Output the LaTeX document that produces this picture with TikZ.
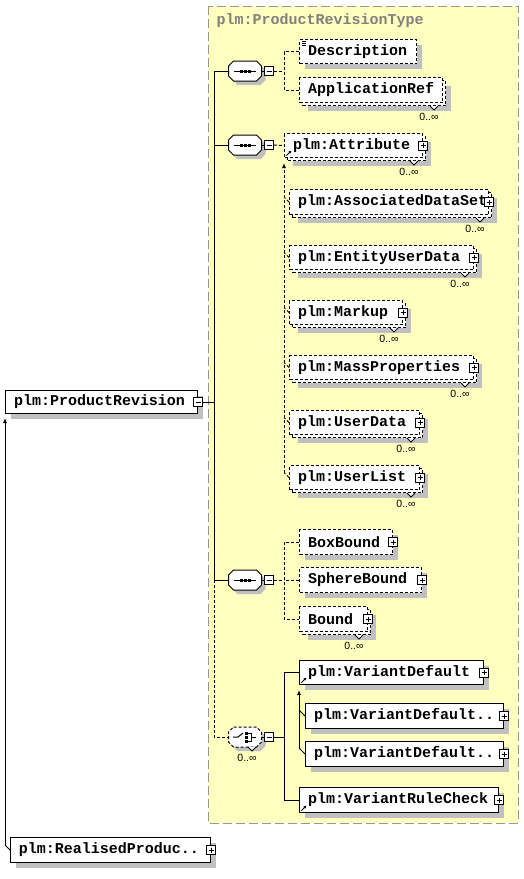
\documentclass[tikz,border=0pt]{standalone}
\usepackage{fontspec}
\usetikzlibrary{arrows.meta,calc,shadows}
\newfontfamily\elfamily{Liberation Mono}
\newfontfamily\mltfamily{Liberation Sans}
\newcommand\elfont{\elfamily\bfseries\fontsize{15}{17}\selectfont}
\definecolor{typebg}{RGB}{255,255,192}
\definecolor{typeline}{RGB}{150,150,150}
\definecolor{typetxt}{RGB}{128,128,128}
\definecolor{shgray}{RGB}{192,192,192}
\def\mult(#1){\draw[fill=white] ($(#1.south east)+(-13,3)$) -- ++(4,4) -- ++(4,-4);
  \node[mlt] (#1-m) at ($(#1.south east)+(-14,14)$) {0..∞};}
\def\octagon[#1](#2){\draw[#1] ($(#2.north west)+(5,0)$) -- ($(#2.north east)+(-5,0)$) -- ($(#2.north east)+(0,5)$)
  -- ($(#2.south east)+(0,-5)$) -- ($(#2.south east)+(-5,0)$) -- ($(#2.south west)+(5,0)$)
  -- ($(#2.south west)+(0,-5)$) -- ($(#2.north west)+(0,5)$) -- cycle;}
\def\seqicon(#1){\draw (#1.center) +(-11,0) -- +(11,0);
  \foreach \d in {-4,0,4} \fill ($(#1.center)+(\d,0)$) +(-1.5,-1.5) rectangle +(1.5,1.5);}
\def\choiceicon(#1){\draw (#1.center) +(-12,0) -- +(-7,0) -- +(-2,-4);
  \foreach \d in {-4,0,4} \fill ($(#1.center)+(1.5,\d)$) +(-1.5,-1.5) rectangle +(1.5,1.5);
  \draw (#1.center) +(3,-4) -- +(6,-4) -- +(6,4) -- +(3,4) +(6,0) -- +(11,0);}
\tikzset{
  opt/.style={dash pattern=on 3pt off 2pt},
  sh/.style={general shadow={fill=shgray, draw=none, shadow xshift=#1, shadow yshift=-#1}},
  el/.style={draw, fill=white, anchor=north west, inner xsep=8.5pt, inner ysep=0pt,
    minimum height=25pt, text width=#1, align=left, font=\elfont},
  one/.style={sh=5pt},
  multi/.style={sh=8pt, general shadow={draw, fill=white, opt, shadow xshift=3pt, shadow yshift=-3pt}},
  ref/.style={path picture={\draw[solid, -{Latex[length=3pt,width=3pt]}]
    ([shift={(2pt,2pt)}]path picture bounding box.south west) -- ++(5pt,5pt);}},
  doc/.style={path picture={\foreach \d in {2,4,6}
    \draw[solid] ([shift={(2pt,-\d pt)}]path picture bounding box.north west) -- ++(4pt,0pt);}},
  sgn/.style={draw, solid, fill=white, minimum size=9pt, inner sep=0pt},
  plus/.style={sgn, path picture={\draw ([xshift=2pt]path picture bounding box.west) -- ([xshift=-2pt]path picture bounding box.east)
    ([yshift=-2pt]path picture bounding box.north) -- ([yshift=2pt]path picture bounding box.south);}},
  minus/.style={sgn, path picture={\draw ([xshift=2pt]path picture bounding box.west) -- ([xshift=-2pt]path picture bounding box.east);}},
  comp/.style={minimum width=32pt, minimum height=19pt, inner sep=0pt},
  subst/.style={-{Latex[length=5pt,width=4pt]}},
  mlt/.style={font=\mltfamily\fontsize{10.5}{12}\selectfont, inner sep=0pt}
}
\begin{document}
\begin{tikzpicture}[x=1pt, y=-1pt, line width=1pt]
  %%%%% START %%%%%
  \useasboundingbox (0,0) rectangle (524,879);

  % complex type
  \draw[typeline, fill=typebg, dash pattern=on 9pt off 4pt] (208,6) rectangle (518,823);
  \node[anchor=west, inner sep=0pt, font=\elfont, text=typetxt] (ttl) at (216,21) {plm:ProductRevisionType};

  % elements
  \node[el=175pt, one, minimum height=23pt] (pr) at (5,390) {plm:ProductRevision};
  \node[el=183pt, one] (rp) at (10,837) {plm:RealisedProduc..};

  \node[el=100pt, one, opt, doc, minimum height=24pt] (desc) at (299,39) {Description};
  \node[el=126pt, multi, opt] (appref) at (299,77) {ApplicationRef};

  \node[el=121pt, multi, opt, ref, minimum height=24pt] (attr) at (284,133) {plm:Attribute};
  \node[el=182pt, multi, opt] (assoc) at (289,189) {plm:AssociatedDataSet};
  \node[el=167pt, multi, opt, minimum height=24pt] (entity) at (289,245) {plm:EntityUserData};
  \node[el=96pt, multi, opt, minimum height=24pt] (markup) at (289,300) {plm:Markup};
  \node[el=167pt, multi, opt, minimum height=24pt] (mass) at (289,355) {plm:MassProperties};
  \node[el=113pt, multi, opt, minimum height=24pt] (udata) at (289,410) {plm:UserData};
  \node[el=113pt, multi, opt, minimum height=24pt] (ulist) at (289,465) {plm:UserList};

  \node[el=76pt, one, opt] (bbox) at (299,529) {BoxBound};
  \node[el=105pt, one, opt] (sbound) at (299,567) {SphereBound};
  \node[el=51pt, multi, opt] (bound) at (299,606) {Bound};

  \node[el=167pt, one, ref, minimum height=24pt] (vdef) at (299,660) {plm:VariantDefault};
  \node[el=181pt, one] (vdefa) at (305,703) {plm:VariantDefault..};
  \node[el=181pt, one] (vdefb) at (305,741) {plm:VariantDefault..};
  \node[el=182pt, one, ref] (vrc) at (299,787) {plm:VariantRuleCheck};

  \node[minus] (pr-s) at (pr.east) {};
  \foreach \n in {rp,attr,assoc,entity,markup,mass,udata,ulist,bbox,sbound,bound,vdef,vdefa,vdefb,vrc}
    \node[plus] (\n-s) at (\n.east) {};
  \foreach \n in {appref,attr,assoc,entity,markup,mass,udata,ulist,bound} {\mult(\n)}

  % compositors
  \node[comp] (seq1) at (245,71) {};
  \node[comp] (seq2) at (245,145) {};
  \node[comp] (seq3) at (245,580) {};
  \node[comp] (ch) at (245,737) {};
  \foreach \n in {seq1,seq2,seq3,ch} {
    \octagon[fill=shgray, draw=none, transform canvas={shift={(4pt,-4pt)}}](\n)
  }
  \foreach \n in {seq1,seq2,seq3} {
    \octagon[fill=white](\n)
    \seqicon(\n)
  }
  \octagon[fill=white, opt](ch)
  \choiceicon(ch)
  \draw[fill=white] ($(ch.south)+(3,0)$) -- ++(4,4) -- ++(4,-4);
  \node[mlt] (ch-m) at ($(ch.south)+(2,11)$) {0..∞};
  \foreach \n in {seq1,seq2,seq3,ch} {
    \node[minus] (\n-s) at ($(\n.east)+(7.5,0)$) {};
    \draw (\n.east) -- (\n-s.west);
  }

  % connectors
  \coordinate (trunk) at (214,0);
  \coordinate (br) at (284,0);
  \draw (pr-s.east) -- (pr-s.east -| trunk);
  \draw (seq1.west) -- (seq1.west -| trunk) -- (seq3.west -| trunk) -- (seq3.west);
  \draw (seq2.west) -- (seq2.west -| trunk);
  \draw[opt] (seq3.west -| trunk) -- (ch.west -| trunk) -- (ch.west);

  \draw[opt] (seq1-s.east) -- (seq1-s.east -| br);
  \draw[opt] (desc.west) -- (desc.west -| br) -- (appref.west -| br) -- (appref.west);

  \draw[opt] (seq2-s.east) -- (attr.west);
  \foreach \n in {assoc,entity,markup,mass,udata,ulist}
    \draw[opt] (\n.west) -- ++(-5,-5);
  \draw[opt, subst] ($(ulist.west)+(-5,-5)$) -- ($(attr.south west)+(0,5)$);

  \draw[opt] (seq3-s.east) -- (seq3-s.east -| br);
  \draw[opt] (bbox.west) -- (bbox.west -| br) -- (bound.west -| br) -- (bound.west);
  \draw[opt] (sbound.west) -- (sbound.west -| br);

  \draw (ch-s.east) -- (ch-s.east -| br);
  \draw (vdef.west) -- (vdef.west -| br) -- (vrc.west -| br) -- (vrc.west);
  \foreach \n in {vdefa,vdefb}
    \draw (\n.west) -- ++(-6,-6);
  \draw[subst] ($(vdefb.west)+(-6,-6)$) -- ($(vdef.south west)+(0,5)$);

  \draw (rp.west) -- ++(-5,-5);
  \draw[subst] ($(rp.west)+(-5,-5)$) -- ($(pr.south west)+(0,4)$);
  %%%%% END %%%%%
\end{tikzpicture}
\end{document}
